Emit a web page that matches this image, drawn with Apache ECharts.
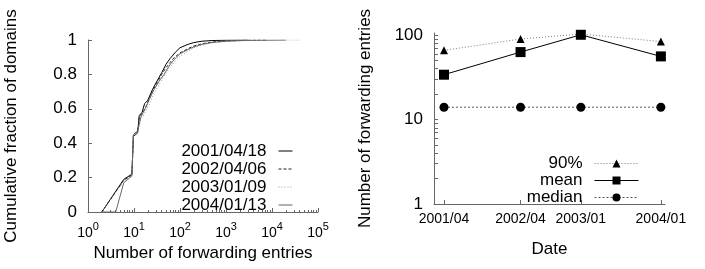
<!DOCTYPE html>
<html lang="en">
<head>
    <meta charset="UTF-8">
    <title>forwarding entries</title>
    <script src="https://cdn.jsdelivr.net/npm/echarts@6/dist/echarts.min.js"></script>
    <style>body{margin:0;background:#fff}</style>
</head>
<body>
<div id="main" style="width: 705px;height:269px;"></div>

<script>
    // left panel: CDF of forwarding entries per domain, [entries, fraction]
    const cdfNames = ['2001/04/18', '2002/04/06', '2003/01/09', '2004/01/13'];
    const cdf2001 = [[2,0],[6,0.19],[9,0.22],[9.7,0.44],[12,0.46],[13,0.56],[15,0.58],[17,0.63],[20,0.65],[25,0.71],[30,0.75],[40,0.81],[50,0.86],[60,0.89],[80,0.93],[100,0.955],[150,0.975],[200,0.985],[300,0.993],[500,0.997],[1000,0.999],[3000,1]];
    const cdf2002 = [[2,0],[6,0.185],[9,0.215],[9.7,0.45],[12,0.47],[13,0.55],[15,0.57],[18,0.61],[20,0.64],[25,0.70],[30,0.74],[40,0.80],[50,0.84],[70,0.89],[100,0.925],[150,0.95],[200,0.965],[300,0.978],[500,0.988],[1000,0.995],[3000,0.999],[8000,1]];
    const cdf2003 = [[2,0],[6,0.18],[9,0.21],[9.7,0.44],[12,0.46],[14,0.54],[16,0.56],[19,0.60],[22,0.63],[27,0.69],[35,0.74],[45,0.79],[60,0.84],[80,0.88],[100,0.905],[150,0.935],[200,0.955],[300,0.97],[500,0.983],[1000,0.992],[3000,0.998],[10000,0.9995],[40000,1]];
    const cdf2004 = [[2,0],[4,0],[6,0.17],[9,0.21],[9.7,0.45],[12,0.47],[14,0.55],[16,0.58],[19,0.62],[22,0.66],[27,0.71],[35,0.76],[45,0.80],[60,0.855],[80,0.895],[100,0.92],[150,0.945],[200,0.96],[300,0.975],[500,0.986],[1000,0.993],[3000,0.998],[20000,1]];
    const decadeTicks = [1, 10, 100, 1000, 10000, 100000];

    // right panel: statistics per snapshot
    const dates = ['2001-04-18', '2002-04-06', '2003-01-09', '2004-01-13'];
    const p90 = [66, 90, 103, 84];
    const meanVals = [34, 63, 101, 56];
    const medianVals = [14, 14, 14, 14];
    const logTicks = [1, 10, 100];

    const ts = d => Date.parse(d + 'T00:00:00Z');
    const minorLog = (lo, hi) => {
        let out = [];
        for (let d = lo; d < hi; d *= 10) {
            for (let k = 2; k <= 9; k++) out.push(d * k);
        }
        return out;
    };
    const pad2 = n => (n < 10 ? '0' : '') + n;

    const font = 'Liberation Sans, Arial, sans-serif';
    const axisGray = '#666';

    const myChart = echarts.init(document.getElementById('main'));
    myChart.setOption({
        animation: false,
        textStyle: {fontFamily: font, color: '#000'},
        grid: [
            {left: 88, right: 387, top: 40, bottom: 57},
            {left: 434, right: 40, top: 33, bottom: 65}
        ],
        legend: [
            {
                data: cdfNames, orient: 'vertical', align: 'right',
                right: 407, top: 137, itemWidth: 14, itemHeight: 10, itemGap: 0,
                itemStyle: {opacity: 0},
                lineStyle: {width: 1},
                textStyle: {fontSize: 17, lineHeight: 18, fontFamily: font, color: '#000', padding: [0, 7, 0, 0]}
            },
            {
                data: ['90%', 'mean', 'median'], orient: 'vertical', align: 'right',
                right: 61, top: 150, itemWidth: 44, itemHeight: 10, itemGap: 0,
                lineStyle: {width: 1},
                textStyle: {fontSize: 17, lineHeight: 17, fontFamily: font, color: '#000', padding: [0, 7, 0, 0]}
            }
        ],
        xAxis: [
            {
                gridIndex: 0, type: 'log', min: 1, max: 100000, position: 'bottom',
                name: 'Number of forwarding entries', nameLocation: 'middle', nameGap: 27,
                nameTextStyle: {fontSize: 17},
                axisLine: {lineStyle: {color: axisGray}},
                axisTick: {inside: true, length: 4, customValues: decadeTicks, lineStyle: {color: axisGray}},
                splitLine: {show: false},
                axisLabel: {
                    customValues: decadeTicks, margin: 8,
                    formatter: v => '{b|10}{s|' + Math.round(Math.log10(v)) + '}',
                    rich: {
                        b: {fontSize: 14, color: '#000', padding: [6, 0, 0, 0]},
                        s: {fontSize: 11, color: '#000', padding: [0, 0, 6, 0]}
                    }
                }
            },
            {
                gridIndex: 0, type: 'log', min: 1, max: 100000, position: 'bottom',
                axisLine: {show: false},
                axisTick: {inside: true, length: 2, customValues: minorLog(1, 100000), lineStyle: {color: axisGray}},
                axisLabel: {show: false},
                splitLine: {show: false}
            },
            {
                gridIndex: 1, type: 'value', min: ts('2001-03-03'), max: ts('2004-02-01'),
                name: 'Date', nameLocation: 'middle', nameGap: 37,
                nameTextStyle: {fontSize: 17},
                axisLine: {lineStyle: {color: axisGray}},
                axisTick: {inside: true, length: 4, customValues: dates.map(ts), lineStyle: {color: axisGray}},
                splitLine: {show: false},
                axisLabel: {
                    customValues: dates.map(ts), margin: 8, fontSize: 14, color: '#000',
                    formatter: v => {
                        const d = new Date(v);
                        return d.getUTCFullYear() + '/' + pad2(d.getUTCMonth() + 1);
                    }
                }
            }
        ],
        yAxis: [
            {
                gridIndex: 0, type: 'value', min: 0, max: 1, interval: 0.2,
                name: 'Cumulative fraction of domains', nameLocation: 'middle', nameGap: 68,
                nameTextStyle: {fontSize: 17},
                axisLine: {show: true, lineStyle: {color: axisGray}},
                axisTick: {show: true, inside: true, length: 4, lineStyle: {color: axisGray}},
                splitLine: {show: false},
                axisLabel: {fontSize: 17, color: '#000', margin: 11, formatter: v => String(v)}
            },
            {
                gridIndex: 1, type: 'log', min: 1, max: 106,
                name: 'Number of forwarding entries', nameLocation: 'middle', nameGap: 60,
                nameTextStyle: {fontSize: 17},
                axisLine: {show: true, lineStyle: {color: axisGray}},
                axisTick: {show: true, inside: true, length: 4, customValues: logTicks.concat(minorLog(1, 100)), lineStyle: {color: axisGray}},
                splitLine: {show: false},
                axisLabel: {customValues: logTicks, fontSize: 17, color: '#000', margin: 11}
            }
        ],
        series: [
            {name: cdfNames[0], type: 'line', data: cdf2001, xAxisIndex: 0, yAxisIndex: 0, showSymbol: false, symbol: 'none',
                lineStyle: {color: '#000', width: 1}, itemStyle: {color: '#000'}},
            {name: cdfNames[1], type: 'line', data: cdf2002, xAxisIndex: 0, yAxisIndex: 0, showSymbol: false, symbol: 'none',
                lineStyle: {color: '#222', width: 1, type: [3, 2]}, itemStyle: {color: '#222'}},
            {name: cdfNames[2], type: 'line', data: cdf2003, xAxisIndex: 0, yAxisIndex: 0, showSymbol: false, symbol: 'none',
                lineStyle: {color: '#999', width: 1, type: [1, 2]}, itemStyle: {color: '#999'}},
            {name: cdfNames[3], type: 'line', data: cdf2004, xAxisIndex: 0, yAxisIndex: 0, showSymbol: false, symbol: 'none',
                lineStyle: {color: '#666', width: 1}, itemStyle: {color: '#666'}},

            {name: '90%', type: 'line', xAxisIndex: 2, yAxisIndex: 1, symbol: 'triangle', symbolSize: 8,
                data: dates.map((d, i) => [ts(d), p90[i]]),
                lineStyle: {color: '#777', width: 1, type: [1, 2]}, itemStyle: {color: '#000'}},
            {name: 'mean', type: 'line', xAxisIndex: 2, yAxisIndex: 1, symbol: 'rect', symbolSize: 10,
                data: dates.map((d, i) => [ts(d), meanVals[i]]),
                lineStyle: {color: '#000', width: 1}, itemStyle: {color: '#000'}},
            {name: 'median', type: 'line', xAxisIndex: 2, yAxisIndex: 1, symbol: 'circle', symbolSize: 9,
                data: dates.map((d, i) => [ts(d), medianVals[i]]),
                lineStyle: {color: '#555', width: 1, type: [2, 2]}, itemStyle: {color: '#000'}}
        ]
    });
</script>
</body>
</html>
